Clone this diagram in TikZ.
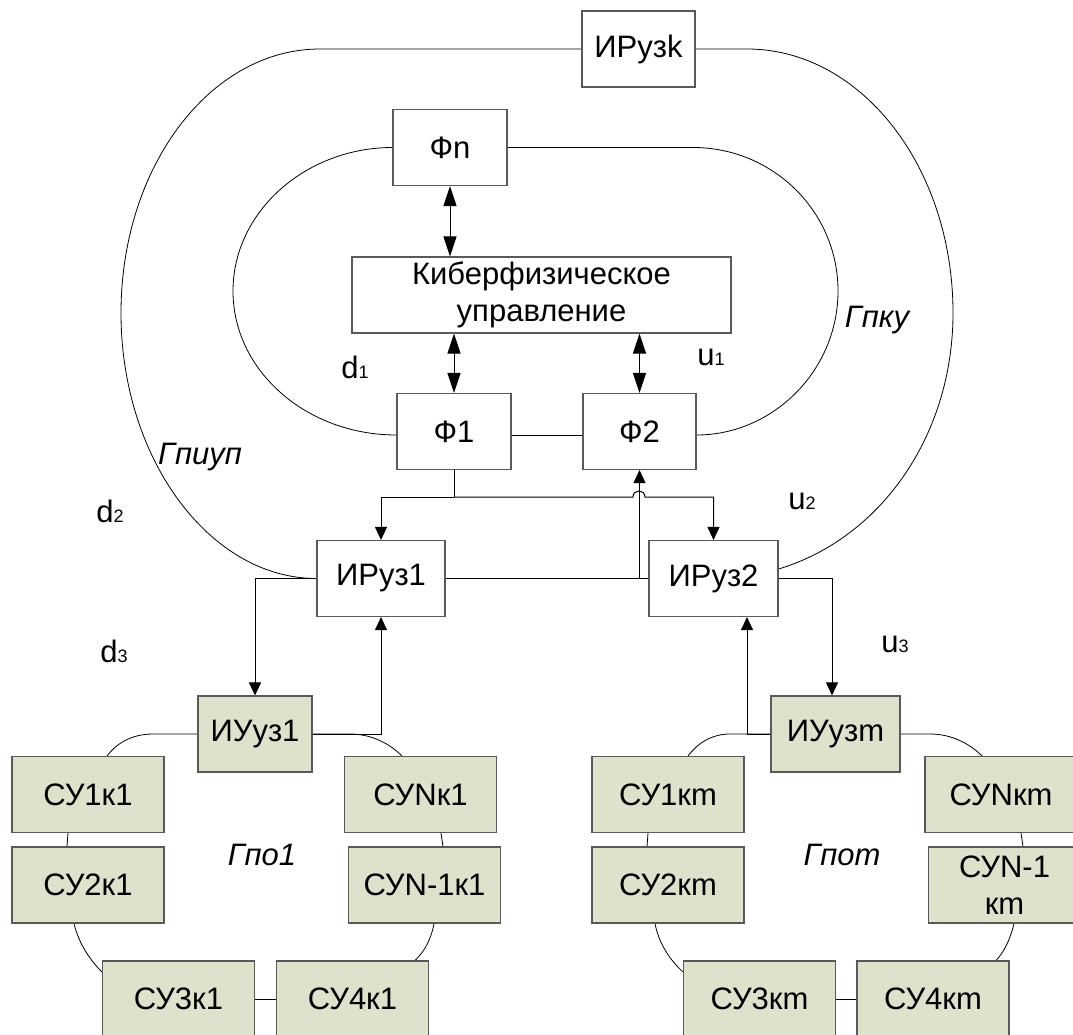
\documentclass[tikz,border=0pt]{standalone}
\usepackage{fontspec}
\setmainfont{Liberation Sans}
\usetikzlibrary{arrows.meta,backgrounds,calc}
\definecolor{sufill}{RGB}{222,225,204}
\tikzset{
  box/.style={draw=black!65, line width=1.1pt, fill=white, inner sep=0pt,
    minimum height=76pt, font=\fontsize{31}{37}\selectfont, text=black, align=center},
  sbox/.style={box, fill=sufill, minimum width=152pt},
  conn/.style={line width=1pt, black},
  ring/.style={line width=0.8pt, black},
  arr/.style={conn, -{Triangle[length=13pt,width=12pt]}},
  darr/.style={conn, {Triangle[length=20pt,width=13pt]}-{Triangle[length=20pt,width=13pt]}},
  lbl/.style={font=\fontsize{31}{37}\selectfont},
  glbl/.style={font=\fontsize{31}{37}\selectfont\itshape},
}
\newcommand{\sbs}[1]{{\fontsize{18}{18}\selectfont #1}}
\begin{document}
\begin{tikzpicture}[x=1pt,y=-1pt]
\useasboundingbox (0,0) rectangle (1073,1035);
% upper part
\node[box, minimum width=113pt] (IRk) at (638.5,49) {ИРузk};
\node[box, minimum width=114pt] (Fn) at (450,147.5) {Фn};
\node[box, minimum width=379pt] (KF) at (541.5,295) {Киберфизическое\\управление};
\node[box, minimum width=114pt] (F1) at (454,431.5) {Ф1};
\node[box, minimum width=113pt] (F2) at (639.5,431.5) {Ф2};
\node[box, minimum width=128pt] (IR1) at (381,578.5) {ИРуз1};
\node[box, minimum width=129pt] (IR2) at (713.5,578.5) {ИРуз2};
% left cluster
\node[sbox, minimum width=114pt] (IU1) at (255,734) {ИУуз1};
\node[sbox] (S11) at (88,794.5) {СУ1к1};
\node[sbox] (S21) at (88,885) {СУ2к1};
\node[sbox] (SN1) at (420.5,794.5) {СУNк1};
\node[sbox] (SNN1) at (424.5,885) {СУN-1к1};
\node[sbox] (S31) at (178.5,999) {СУ3к1};
\node[sbox] (S41) at (352.5,999) {СУ4к1};
% right cluster
\node[sbox, minimum width=129pt] (IUm) at (835.5,734) {ИУузm};
\node[sbox] (S1m) at (668,794.5) {СУ1кm};
\node[sbox] (S2m) at (668,885) {СУ2кm};
\node[sbox] (SNm) at (1001,794.5) {СУNкm};
\node[sbox] (SNN1m) at (1004.5,885) {СУN-1\\кm};
\node[sbox] (S3m) at (759.5,999) {СУ3кm};
\node[sbox] (S4m) at (933,999) {СУ4кm};
% labels
\node[lbl] (d1) at (355,367) {d\sbs{1}};
\node[lbl] (u1) at (711,357) {u\sbs{1}};
\node[lbl] (d2) at (110,511) {d\sbs{2}};
\node[lbl] (u2) at (802,501) {u\sbs{2}};
\node[lbl] (d3) at (114,651) {d\sbs{3}};
\node[lbl] (u3) at (895,644) {u\sbs{3}};
\node[glbl] (Gpiup) at (200,457) {Гпиуп};
\node[glbl] (Gpku) at (877,320) {Гпку};
\node[glbl] (Gpo1) at (262,855) {Гпо1};
\node[glbl] (Gpom) at (842,855) {Гпоm};

\coordinate (J) at (454,497);

\begin{pgfonlayer}{background}
\fill[white] (0,0) rectangle (1073,1035);
% outer loop
\draw[ring] (IRk.west) -- (320,49) .. controls (210,49) and (121,167) .. (121,313)
  .. controls (121,459) and (210,578.5) .. (IR1.west);
\draw[ring] (IRk.east) -- (747,49) .. controls (861,49) and (953,167) .. (953,313)
  .. controls (953,459) and (850,578.5) .. (IR2.center);
% inner loop
\draw[ring] (Fn.west) .. controls (306,147.5) and (233,211.5) .. (233,291)
  .. controls (233,370.5) and (306,435) .. ([yshift=-3.5pt]F1.west);
\draw[ring] (Fn.east) -- (693,147.5) .. controls (773,147.5) and (838,211.5) .. (838,291)
  .. controls (838,370.5) and (773,435) .. ([yshift=-3.5pt]F2.east);
\draw[conn] ([yshift=-3.5pt]F1.east) -- ([yshift=-3.5pt]F2.west);
% double arrows
\draw[darr] (Fn.south) -- (Fn.south |- KF.north);
\draw[darr] (F1.north |- KF.south) -- (F1.north);
\draw[darr] (F2.north |- KF.south) -- (F2.north);
% distribution
\draw[conn] (F1.south) -- (J);
\draw[arr] (J) -| (IR1.north);
\draw[arr] (J) -- (633,497) .. controls (633,489) and (645,489) .. (645,497) -| (IR2.north);
\draw[conn] (IR1.east) -- (IR2.west);
\draw[arr] (F2.south |- IR1.east) -- (F2.south);
% down to clusters
\draw[arr] (IR1.west) -| (IU1.north);
\draw[arr] (IU1.east) -| (IR1.south);
\draw[arr] (IR2.east) -| ([xshift=-3.5pt]IUm.north);
\draw[arr] (IUm.west) -| ([xshift=33.5pt]IR2.south);
% left ring
\draw[ring] (IU1.west) -- (153,734) .. controls (131,734) and (116,744) .. ([xshift=19pt]S11.north);
\draw[ring] ([xshift=-20pt]S11.south) -- ([xshift=-21pt]S21.north);
\draw[ring] ([xshift=-14pt]S21.south) .. controls (79,944) and (90,960) .. ([yshift=27pt]S31.west);
\draw[ring] (IU1.east) -- (350,734) .. controls (372,734) and (390,744) .. ([xshift=-18.5pt]SN1.north);
\draw[ring] ([xshift=20.5pt]SN1.south) -- ([xshift=18.5pt]SNN1.north);
\draw[ring] ([xshift=9.5pt]SNN1.south) .. controls (431,940) and (424,952) .. ([xshift=62.5pt]S41.north);
\draw[ring] (S31.east) -- (S41.west);
% right ring
\draw[ring] (IUm.west) -- (730,734) .. controls (711,734) and (697,744) .. ([xshift=20pt]S1m.north);
\draw[ring] ([xshift=-20pt]S1m.south) -- ([xshift=-21pt]S2m.north);
\draw[ring] ([xshift=-13pt]S2m.south) .. controls (659,944) and (670,960) .. ([yshift=27pt]S3m.west);
\draw[ring] (IUm.east) -- (930,734) .. controls (952,734) and (970,744) .. ([xshift=-19pt]SNm.north);
\draw[ring] ([xshift=20pt]SNm.south) -- ([xshift=18.5pt]SNN1m.north);
\draw[ring] ([xshift=9.5pt]SNN1m.south) .. controls (1010,940) and (1004,952) .. ([xshift=63pt]S4m.north);
\draw[ring] (S3m.east) -- (S4m.west);
\end{pgfonlayer}
\end{tikzpicture}
\end{document}
